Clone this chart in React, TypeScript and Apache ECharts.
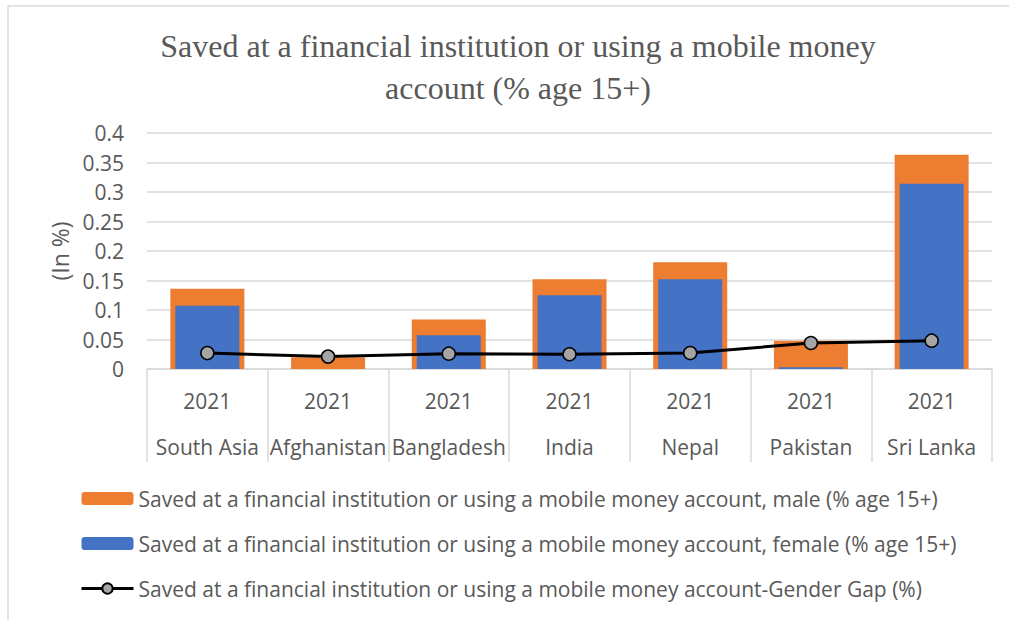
import React, { useEffect, useRef } from "react";
import * as echarts from "echarts";

const categories = ["South Asia", "Afghanistan", "Bangladesh", "India", "Nepal", "Pakistan", "Sri Lanka"];
const years = ["2021", "2021", "2021", "2021", "2021", "2021", "2021"];
const maleValues = [0.136, 0.02, 0.084, 0.152, 0.181, 0.048, 0.363];
const femaleValues = [0.107, 0, 0.057, 0.125, 0.152, 0.003, 0.314];
const gapValues = [0.027, 0.021, 0.026, 0.025, 0.027, 0.044, 0.048];
const seriesNames = [
  "Saved at a financial institution or using a mobile money account, male (% age 15+)",
  "Saved at a financial institution or using a mobile money account, female (% age 15+)",
  "Saved at a financial institution or using a mobile money account-Gender Gap (%)",
];
const titleText = "Saved at a financial institution or using a mobile money\naccount (% age 15+)";
const yAxisTitle = "(In %)";

const FONT = "Open Sans";
const TXT = "#595959";
const GRID = "#d9d9d9";

export default function App() {
  const ref = useRef<HTMLDivElement>(null);
  useEffect(() => {
    if (!ref.current) return;
    const chart = echarts.init(ref.current, undefined, { renderer: "svg" });
    const labels = categories.map((c, i) => `${years[i]}\n${c}`);
    chart.setOption({
      animation: false,
      backgroundColor: "#ffffff",
      title: {
        text: titleText,
        left: 513,
        textAlign: "center",
        top: 20,
        textStyle: {
          fontFamily: "Liberation Serif",
          fontSize: 32,
          fontWeight: "normal",
          color: TXT,
          lineHeight: 42,
        },
      },
      graphic: [
        {
          type: "rect",
          shape: { x: 8, y: 6, width: 1010, height: 630 },
          style: { fill: "none", stroke: GRID, lineWidth: 1.5 },
          silent: true,
          z: -10,
        },
        {
          type: "text",
          x: 60,
          y: 251,
          rotation: Math.PI / 2,
          style: {
            text: yAxisTitle,
            fontFamily: FONT,
            fontSize: 23,
            fill: TXT,
            align: "center",
            verticalAlign: "middle",
          },
        },
      ],
      legend: {
        orient: "vertical",
        left: 80,
        top: 488,
        padding: 0,
        itemWidth: 52,
        itemHeight: 13,
        itemGap: 24,
        textStyle: { fontFamily: FONT, fontSize: 21, color: TXT },
        data: [
          { name: seriesNames[0] },
          { name: seriesNames[1] },
          { name: seriesNames[2], lineStyle: { width: 3, color: "#000000" } },
        ],
      },
      grid: { left: 147, right: 17, top: 133, bottom: 251, containLabel: false },
      xAxis: [
        {
          type: "category",
          data: labels,
          axisLine: { show: true, lineStyle: { color: GRID, width: 1.5 } },
          axisTick: { show: true, length: 93, lineStyle: { color: GRID, width: 1.5 } },
          axisLabel: {
            fontFamily: FONT,
            fontSize: 21,
            color: TXT,
            lineHeight: 46,
            margin: 9,
            interval: 0,
          },
        },
        {
          type: "category",
          data: labels,
          show: false,
        },
      ],
      yAxis: {
        type: "value",
        min: 0,
        max: 0.4,
        interval: 0.05,
        axisLine: { show: false },
        axisTick: { show: false },
        splitLine: { lineStyle: { color: GRID, width: 1.5 } },
        axisLabel: {
          fontFamily: FONT,
          fontSize: 21,
          color: TXT,
          margin: 23,
          formatter: (v: number) => String(Math.round(v * 100) / 100),
        },
      },
      series: [
        {
          name: seriesNames[0],
          type: "bar",
          xAxisIndex: 0,
          barWidth: 74,
          data: maleValues,
          itemStyle: { color: "#ED7D31" },
          z: 2,
        },
        {
          name: seriesNames[1],
          type: "bar",
          xAxisIndex: 1,
          barWidth: 64,
          data: femaleValues,
          itemStyle: { color: "#4472C4" },
          z: 3,
        },
        {
          name: seriesNames[2],
          type: "line",
          xAxisIndex: 0,
          data: gapValues,
          symbol: "circle",
          symbolSize: 13,
          lineStyle: { color: "#000000", width: 3 },
          itemStyle: { color: "#A5A5A5", borderColor: "#000000", borderWidth: 1.5 },
          z: 5,
        },
      ],
    });
    return () => chart.dispose();
  }, []);
  return (
    <div
      ref={ref}
      style={{ position: "fixed", left: 0, top: 0, width: 1009, height: 620 }}
    />
  );
}
